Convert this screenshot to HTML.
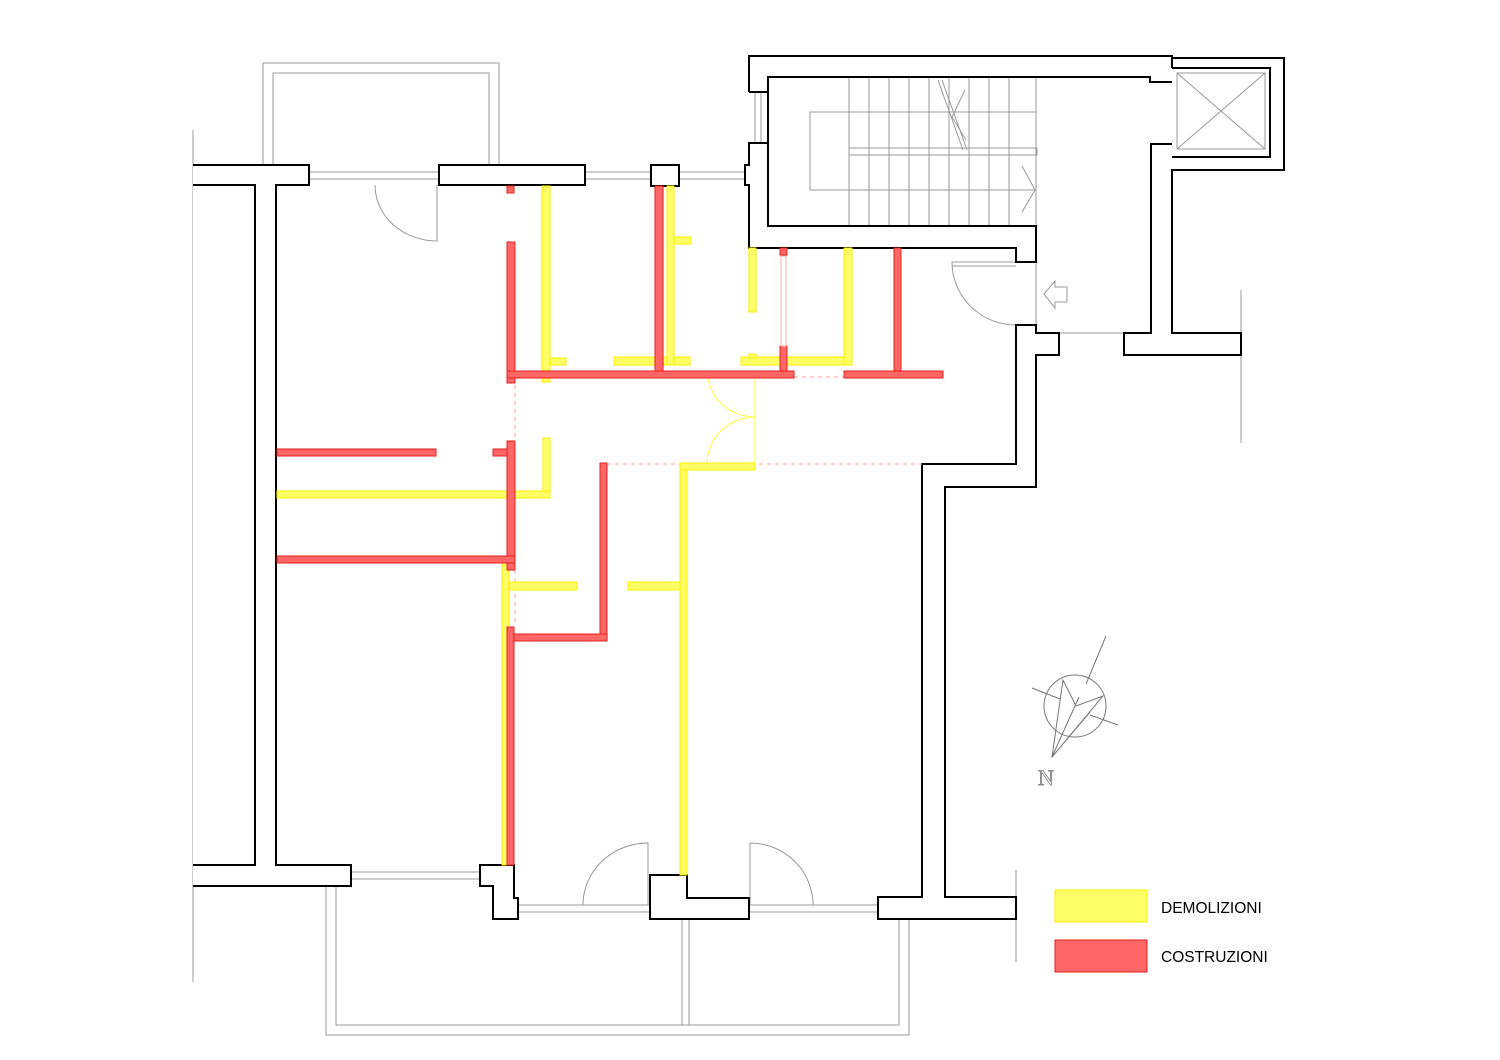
<!DOCTYPE html>
<html><head><meta charset="utf-8"><style>html,body{margin:0;padding:0;background:#fff}svg{display:block}</style></head>
<body>
<svg width="1500" height="1060" viewBox="0 0 1500 1060" xmlns="http://www.w3.org/2000/svg" font-family="Liberation Sans, sans-serif">
<rect width="1500" height="1060" fill="#fff"/>
<g stroke="#999" stroke-width="1" fill="none">
<line x1="193" y1="130" x2="193" y2="982"/>
<line x1="1241" y1="290" x2="1241" y2="443"/>
<line x1="1016" y1="870" x2="1016" y2="962"/>
<path d="M263,165 V63 H499 V165 M273,165 V73 H489 V165"/>
<path d="M326,886 V1035 H909 V919 M336,886 V1025 H899 V919 M682,919 V1025 M689,919 V1025"/>
<path d="M309,172 H439 M309,179 H439 M585,172 H651 M585,179 H651 M679,172 H745 M679,179 H745"/>
<path d="M351,872 H480 M351,879 H480 M517,905 H650 M517,912 H650 M749,905 H878 M749,912 H878"/>
<path d="M755,92 V143 M761,92 V143"/>
<rect x="810" y="112" width="226" height="78"/>
<rect x="849" y="148" width="188" height="7"/>
<path d="M849,77 V226 M869,77 V226 M889,77 V226 M909,77 V226 M929,77 V226 M949,77 V226 M969,77 V226 M989,77 V226 M1009,77 V226 M1036,77 V226"/>
<path d="M938,80 L963,150 M942,80 L967,150 M965,90 L952,117 L966,140 M1022,166 L1035,190 L1022,212"/>
<rect x="1177" y="73" width="88" height="76"/>
<path d="M1177,73 L1265,149 M1265,73 L1177,149"/>
<path d="M1036,262 V333 H1124"/>
<path d="M1044,294 L1055,281 V287 H1067 V302 H1055 V308 Z"/>
<path d="M437,185 V241 A62,56 0 0 1 375,185"/>
<path d="M648,905 V843 A65,62 0 0 0 583,905"/>
<path d="M750,905 V843 A63,62 0 0 1 813,905"/>
<path d="M1016,262 H952 A64,63 0 0 0 1016,325 M952,266 H1016"/>
</g>
<g stroke="#000" stroke-width="2" fill="#fff">
<path d="M193,165 H309 V185 H276 V865 H351 V886 H193"/>
<path d="M193,185 H255 V865 H193" fill="none"/>
<rect x="439" y="165" width="146" height="20"/>
<rect x="651" y="165" width="28" height="21"/>
<path d="M749,92 V56 H1172 V68 M1172,58 H1284 V170 H1172 V333 H1241 V355 H1124 V333 H1151 V144 H1172" fill="none"/>
<path d="M1172,68 H1270 V157 H1172" fill="none"/>
<path d="M749,92 H768 V226 H1036 V262 H1016 V248 H749 V185 H745 V165 H749 V143 H768" fill="none"/>
<path d="M768,92 V77 H1150 V82 H1172" fill="none"/>
<path d="M1016,325 H1036 V333 H1059 V355 H1036 V487 H945 V897 H1016 V919 H878 V897 H922 V464 H1016 Z"/>
<path d="M480,865 H514 V898 H518 V919 H493 V886 H480 Z"/>
<path d="M650,875 H687 V898 H749 V919 H650 Z"/>
</g>
<g stroke="#f4a0a0" stroke-width="1" stroke-dasharray="4,4" fill="none">
<path d="M794,377 H844 M607,464 H922 M515,385 V440 M515,570 V625"/>
</g>
<g stroke="#ffff44" stroke-width="1" fill="none">
<path d="M755,370 V464 M707,370 A48,47 0 0 0 755,417 M755,417 A48,47 0 0 0 707,464"/>
</g>
<g fill="#ffff66" stroke="#ffee00" stroke-width="1">
<rect x="542" y="186" width="8" height="196"/>
<rect x="550" y="358" width="16" height="7"/>
<rect x="614" y="357" width="76" height="8"/>
<rect x="667" y="186" width="7" height="179"/>
<rect x="674" y="237" width="17" height="7"/>
<rect x="749" y="248" width="7" height="64"/>
<rect x="741" y="357" width="111" height="8"/>
<rect x="749" y="354" width="7" height="4"/>
<rect x="844" y="248" width="8" height="117"/>
<rect x="543" y="438" width="7" height="60"/>
<rect x="277" y="491" width="273" height="7"/>
<rect x="502" y="563" width="7" height="302"/>
<rect x="509" y="582" width="68" height="8"/>
<rect x="628" y="582" width="59" height="8"/>
<rect x="680" y="464" width="7" height="411"/>
<rect x="680" y="463" width="75" height="7"/>
</g>
<g fill="#ff6666" stroke="#e52020" stroke-width="1">
<rect x="507" y="186" width="7" height="7"/>
<rect x="507" y="242" width="8" height="141"/>
<rect x="507" y="371" width="287" height="7"/>
<rect x="655" y="186" width="8" height="185"/>
<rect x="780" y="248" width="7" height="7"/>
<rect x="780" y="346" width="7" height="25"/>
<rect x="844" y="371" width="99" height="7"/>
<rect x="894" y="248" width="7" height="123"/>
<rect x="277" y="449" width="159" height="7"/>
<rect x="493" y="449" width="16" height="7"/>
<rect x="507" y="441" width="8" height="129"/>
<rect x="277" y="556" width="238" height="7"/>
<rect x="600" y="463" width="7" height="178"/>
<rect x="511" y="634" width="96" height="7"/>
<rect x="507" y="627" width="7" height="238"/>
</g>
<rect x="781" y="256" width="5" height="90" fill="none" stroke="#f4b0b0" stroke-width="1"/>
<g stroke="#777" stroke-width="1" fill="none">
<circle cx="1075" cy="706" r="31"/>
<path d="M1106,636 L1086,684 M1032,688 L1060,699 M1090,715 L1118,725"/>
<path d="M1052,757 L1063,680 L1076,706 L1103,696 Z M1052,757 L1079,697 M1052,757 L1090,712"/>
</g>
<text x="1038" y="785" font-family="Liberation Serif, serif" font-size="22" fill="#fff" stroke="#777" stroke-width="0.8">N</text>
<rect x="1055" y="890" width="92" height="32" fill="#ffff66" stroke="#ffee00"/>
<rect x="1055" y="940" width="92" height="32" fill="#ff6666" stroke="#e52020"/>
<text x="1161" y="913" font-size="15.5" fill="#000">DEMOLIZIONI</text>
<text x="1161" y="962" font-size="15.5" fill="#000">COSTRUZIONI</text>
</svg>
</body></html>
